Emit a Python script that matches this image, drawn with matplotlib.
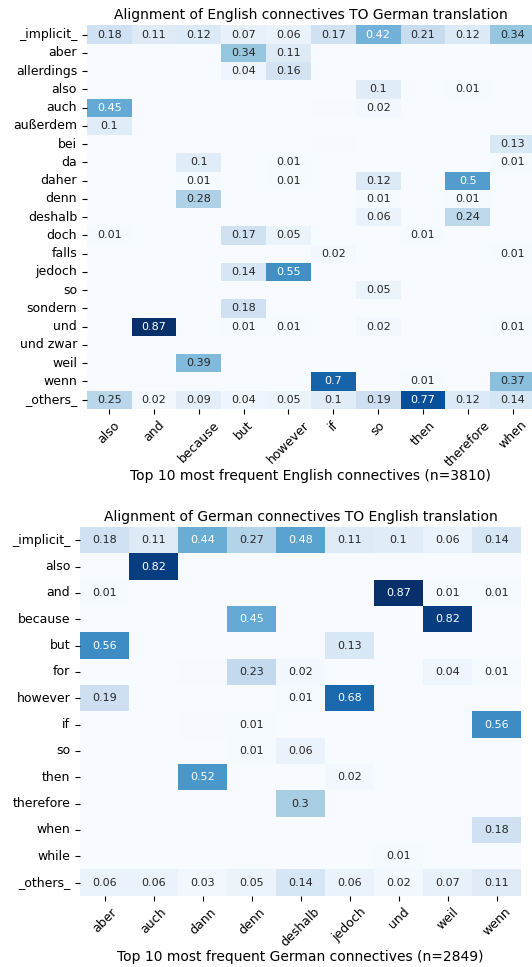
import numpy as np
import pandas as pd
import matplotlib
matplotlib.use("Agg")
import matplotlib.pyplot as plt
import seaborn as sns

# English -> German
en_cols = ["also", "and", "because", "but", "however", "if", "so", "then", "therefore", "when"]
de_rows = ["_implicit_", "aber", "allerdings", "also", "auch", "außerdem", "bei", "da", "daher",
           "denn", "deshalb", "doch", "falls", "jedoch", "so", "sondern", "und", "und zwar",
           "weil", "wenn", "_others_"]
en_to_de = [
    [0.18, 0.11, 0.12, 0.07, 0.06, 0.17, 0.42, 0.21, 0.12, 0.34],
    [0, 0, 0, 0.34, 0.11, 0, 0, 0, 0, 0],
    [0, 0, 0, 0.04, 0.16, 0, 0, 0, 0, 0],
    [0, 0, 0, 0, 0, 0.003, 0.1, 0, 0.01, 0],
    [0.45, 0, 0, 0, 0, 0.004, 0.02, 0, 0, 0],
    [0.1, 0, 0, 0, 0, 0.003, 0, 0, 0, 0],
    [0, 0, 0, 0, 0, 0.004, 0, 0, 0, 0.13],
    [0, 0, 0.1, 0, 0.01, 0, 0, 0, 0, 0.01],
    [0, 0, 0.01, 0, 0.01, 0, 0.12, 0, 0.5, 0],
    [0, 0, 0.28, 0, 0, 0, 0.01, 0, 0.01, 0],
    [0, 0, 0.003, 0, 0, 0, 0.06, 0, 0.24, 0],
    [0.01, 0, 0, 0.17, 0.05, 0, 0, 0.01, 0, 0],
    [0, 0, 0, 0, 0, 0.02, 0, 0, 0, 0.01],
    [0, 0, 0, 0.14, 0.55, 0, 0, 0, 0, 0],
    [0, 0, 0, 0, 0, 0, 0.05, 0, 0, 0],
    [0, 0, 0, 0.18, 0, 0, 0, 0, 0, 0],
    [0, 0.87, 0, 0.01, 0.01, 0, 0.02, 0, 0, 0.01],
    [0, 0, 0, 0, 0, 0, 0, 0, 0, 0],
    [0, 0, 0.39, 0, 0, 0, 0, 0, 0, 0],
    [0, 0, 0, 0, 0, 0.7, 0, 0.01, 0, 0.37],
    [0.25, 0.02, 0.09, 0.04, 0.05, 0.1, 0.19, 0.77, 0.12, 0.14],
]

# German -> English
de_cols = ["aber", "auch", "dann", "denn", "deshalb", "jedoch", "und", "weil", "wenn"]
en_rows = ["_implicit_", "also", "and", "because", "but", "for", "however", "if", "so",
           "then", "therefore", "when", "while", "_others_"]
de_to_en = [
    [0.18, 0.11, 0.44, 0.27, 0.48, 0.11, 0.1, 0.06, 0.14],
    [0, 0.82, 0, 0, 0, 0, 0, 0, 0],
    [0.01, 0, 0, 0, 0, 0, 0.87, 0.01, 0.01],
    [0, 0, 0, 0.45, 0, 0, 0, 0.82, 0],
    [0.56, 0, 0, 0, 0, 0.13, 0, 0, 0],
    [0, 0, 0.004, 0.23, 0.02, 0, 0, 0.04, 0.01],
    [0.19, 0, 0, 0, 0.01, 0.68, 0, 0, 0],
    [0, 0, 0.004, 0.01, 0, 0, 0, 0, 0.56],
    [0, 0, 0.003, 0.01, 0.06, 0, 0, 0, 0],
    [0, 0, 0.52, 0, 0, 0.02, 0, 0, 0],
    [0, 0, 0, 0, 0.3, 0, 0, 0, 0],
    [0, 0, 0, 0, 0, 0, 0, 0, 0.18],
    [0, 0, 0, 0, 0, 0, 0.01, 0, 0],
    [0.06, 0.06, 0.03, 0.05, 0.14, 0.06, 0.02, 0.07, 0.11],
]


def labels_for(df):
    # hide cells that round to zero
    r = df.round(2)
    return r.map(lambda v: f"{v:g}" if v > 0 else "")


W, H = 532, 967
fig = plt.figure(figsize=(W / 100, H / 100), dpi=100)

ax1 = fig.add_axes([86.8 / W, 1 - 408.8 / H, 448.2 / W, 383.3 / H])
ax2 = fig.add_axes([80 / W, 1 - 895.7 / H, 441 / W, 368.7 / H])

df1 = pd.DataFrame(en_to_de, index=de_rows, columns=en_cols)
df2 = pd.DataFrame(de_to_en, index=en_rows, columns=de_cols)

for ax, df, title, xlab in [
    (ax1, df1, "Alignment of English connectives TO German translation",
     "Top 10 most frequent English connectives (n=3810)"),
    (ax2, df2, "Alignment of German connectives TO English translation",
     "Top 10 most frequent German connectives (n=2849)"),
]:
    sns.heatmap(df, annot=labels_for(df), fmt="", cmap="Blues", cbar=False, ax=ax,
                annot_kws={"size": 8})
    ax.set_title(title, fontsize=10, pad=4.5)
    ax.set_xlabel(xlab, fontsize=10, labelpad=0.5)
    ax.tick_params(axis="both", labelsize=9)
    plt.setp(ax.get_xticklabels(), rotation=45)
    plt.setp(ax.get_yticklabels(), rotation=0)

fig.savefig("out.png", dpi=100)
